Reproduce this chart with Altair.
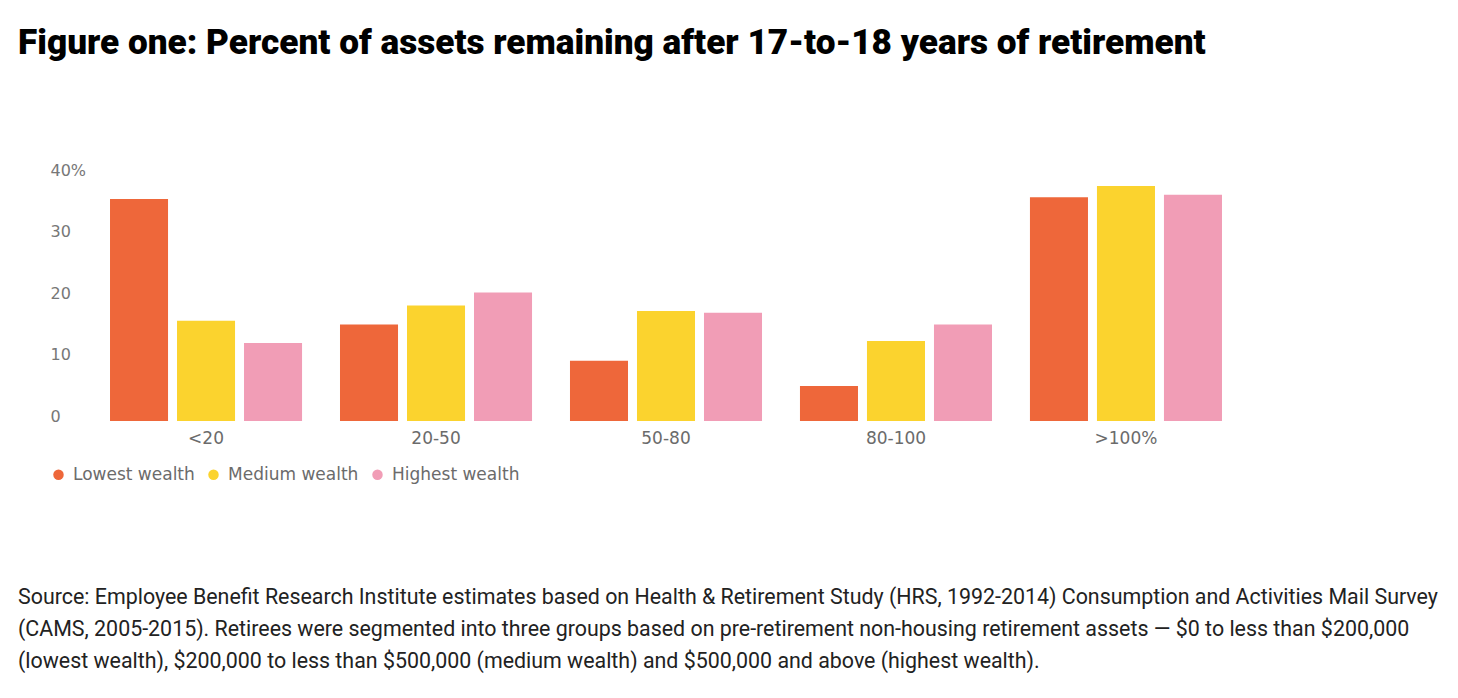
import altair as alt
import pandas as pd

categories = ["<20", "20-50", "50-80", "80-100", ">100%"]
series_names = ["Lowest wealth", "Medium wealth", "Highest wealth"]
lowest = [36.1, 15.7, 9.8, 5.7, 36.4]
medium = [16.3, 18.8, 17.9, 13.0, 38.2]
highest = [12.7, 20.9, 17.6, 15.7, 36.8]
colors = ["#EE673A", "#FBD32E", "#F19DB6"]
y_ticks = [0, 10, 20, 30, 40]

title_text = "Figure one: Percent of assets remaining after 17-to-18 years of retirement"
source_lines = [
    "Source: Employee Benefit Research Institute estimates based on Health & Retirement Study (HRS, 1992-2014) Consumption and Activities Mail Survey",
    "(CAMS, 2005-2015). Retirees were segmented into three groups based on pre-retirement non-housing retirement assets \u2014 $0 to less than $200,000",
    "(lowest wealth), $200,000 to less than $500,000 (medium wealth) and $500,000 and above (highest wealth).",
]

rows = []
for vals, name in zip([lowest, medium, highest], series_names):
    for c, v in zip(categories, vals):
        rows.append({"category": c, "group": name, "value": v})
df = pd.DataFrame(rows)

W, H = 1152, 246
PL, PT = 82, 167
TOTAL_W, TOTAL_H = 1442, 682

label_font = "DejaVu Sans"

bars = alt.Chart(df).mark_bar().encode(
    x=alt.X("category:N", sort=categories,
            scale=alt.Scale(paddingInner=0.165, paddingOuter=0.087),
            axis=alt.Axis(title=None, labelAngle=0, ticks=False, domain=False,
                          labelFontSize=17, labelColor="#6b6b6b", labelFont=label_font,
                          labelPadding=9)),
    xOffset=alt.XOffset("group:N", sort=series_names,
                        scale=alt.Scale(paddingInner=0.134, paddingOuter=0)),
    y=alt.Y("value:Q", scale=alt.Scale(domain=[0, 40], nice=False),
            axis=alt.Axis(title=None, values=y_ticks, grid=False, ticks=False, domain=False,
                          labelAlign="left", labelPadding=40, labelOffset=-5,
                          labelFontSize=16, labelColor="#777777", labelFont=label_font,
                          labelExpr="datum.value == 40 ? '40%' : datum.label")),
    color=alt.Color("group:N", sort=series_names,
                    scale=alt.Scale(domain=series_names, range=colors),
                    legend=alt.Legend(title=None, orient="none", direction="horizontal",
                                      legendX=-40, legendY=291, symbolType="circle",
                                      symbolSize=110, labelFontSize=17, labelColor="#6b6b6b",
                                      labelFont=label_font, columnPadding=10, labelOffset=6)),
)

source = alt.Chart(pd.DataFrame({"t": [0]})).mark_text(
    align="left", baseline="middle", fontSize=21.4, font="Roboto", color="#222222",
    lineHeight=32,
).encode(
    x=alt.value(-72), y=alt.value(423), text=alt.value(source_lines)
)

chart = alt.layer(bars, source).properties(
    width=W, height=H,
    title=alt.TitleParams(title_text, anchor="start", frame="group", dx=-72, offset=101,
                          fontSize=35.2, font="Roboto", fontWeight=900, color="#000000"),
    autosize=alt.AutoSizeParams(type="none"),
    padding={"left": PL, "top": PT, "right": TOTAL_W - PL - W, "bottom": TOTAL_H - PT - H},
).configure(background="white").configure_view(strokeWidth=0)

chart.save("out.html", embed_options={"renderer": "svg", "actions": False})
